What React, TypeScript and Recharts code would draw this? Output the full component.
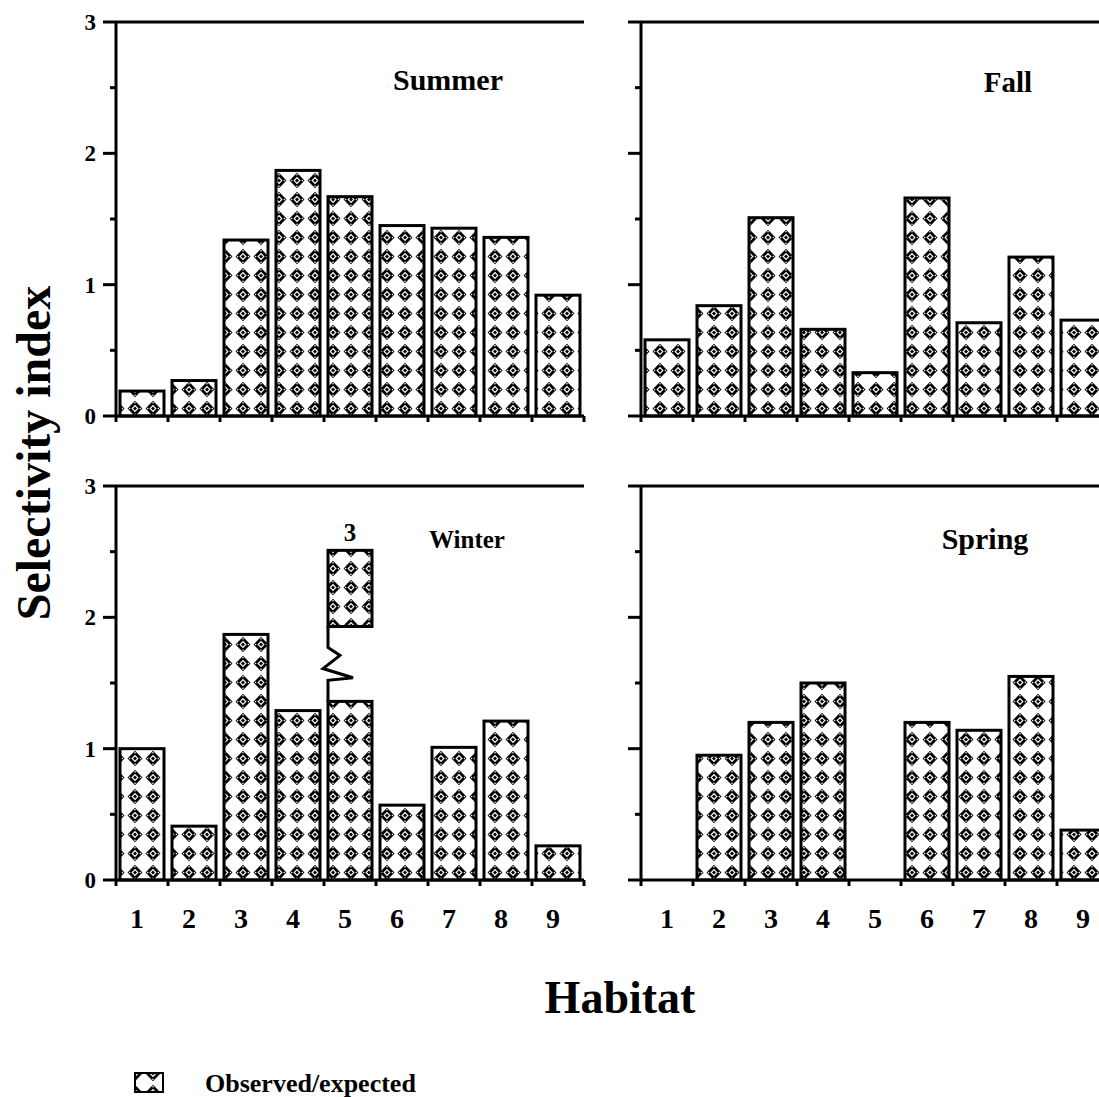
import React from 'react'
import { BarChart, Bar, XAxis, YAxis, ReferenceLine } from 'recharts'

const habitats = ['1', '2', '3', '4', '5', '6', '7', '8', '9']
const summerValues = [0.19, 0.27, 1.34, 1.87, 1.67, 1.45, 1.43, 1.36, 0.92]
const fallValues = [0.58, 0.84, 1.51, 0.66, 0.33, 1.66, 0.71, 1.21, 0.73]
const winterValues = [1.0, 0.41, 1.87, 1.29, 3, 0.57, 1.01, 1.21, 0.26]
const springValues = [0, 0.95, 1.2, 1.5, 0, 1.2, 1.14, 1.55, 0.38]
const yTicks = [0, 0.5, 1, 1.5, 2, 2.5, 3]

// winter habitat 5 runs off the scale, so its bar is drawn with a break
const brokenHabitat = '5'
const brokenLowerTop = 1.36
const brokenUpper = [1.93, 2.51]

const FONT = "'Liberation Serif', 'Times New Roman', serif"
const CHART_W = 600
const CHART_H = 486
const PLOT_W = 468
const BAND = PLOT_W / habitats.length

const toRows = (values: number[], broken = false) =>
  habitats.map((h, i) => ({ habitat: h, value: values[i], broken: broken && h === brokenHabitat }))

const BarShape = (props: any) => {
  const { x, y, width, height, payload } = props
  if (!height || height <= 0) return null
  if (!payload.broken) {
    return <rect x={x} y={y} width={width} height={height} fill="url(#obsExp)" stroke="#000" strokeWidth={3} />
  }
  const base = y + height
  const unit = height / payload.value
  const py = (v: number) => base - v * unit
  const zig = [
    [0, brokenUpper[0]],
    [0, 1.77],
    [12, 1.71],
    [-5, 1.61],
    [25, 1.54],
    [0, 1.52],
    [0, brokenLowerTop],
  ]
  return (
    <g>
      <rect x={x} y={py(brokenLowerTop)} width={width} height={base - py(brokenLowerTop)} fill="url(#obsExp)" stroke="#000" strokeWidth={3} />
      <rect x={x} y={py(brokenUpper[1])} width={width} height={py(brokenUpper[0]) - py(brokenUpper[1])} fill="url(#obsExp)" stroke="#000" strokeWidth={3} />
      <polyline points={zig.map(([dx, v]) => `${x + dx},${py(v)}`).join(' ')} fill="none" stroke="#000" strokeWidth={3} />
      <text x={x + width / 2} y={py(brokenUpper[1]) - 9} textAnchor="middle" fontFamily={FONT} fontWeight="bold" fontSize={25}>
        {payload.value}
      </text>
    </g>
  )
}

const YTick = ({ x, y, payload, showLabels }: any) => {
  const major = Number.isInteger(payload.value)
  return (
    <g>
      <line x1={x - (major ? 13 : 6)} x2={x} y1={y} y2={y} stroke="#000" strokeWidth={3} />
      {showLabels && major && (
        <text x={x - 20} y={y + 8} textAnchor="end" fontFamily={FONT} fontWeight="bold" fontSize={23}>
          {payload.value}
        </text>
      )}
    </g>
  )
}

const XTick = ({ x, y, payload, index, showLabels, shift }: any) => (
  <g>
    <line x1={x - BAND / 2} x2={x - BAND / 2} y1={y} y2={y + 6} stroke="#000" strokeWidth={3} />
    {index === habitats.length - 1 && (
      <line x1={x + BAND / 2} x2={x + BAND / 2} y1={y} y2={y + 6} stroke="#000" strokeWidth={3} />
    )}
    {showLabels && (
      <text x={x + shift} y={y + 48} textAnchor="middle" fontFamily={FONT} fontWeight="bold" fontSize={28}>
        {payload.value}
      </text>
    )}
  </g>
)

interface PanelProps {
  rows: { habitat: string; value: number; broken: boolean }[]
  left: number
  top: number
  showYLabels: boolean
  showXLabels: boolean
  labelShift: number
}

function Panel({ rows, left, top, showYLabels, showXLabels, labelShift }: PanelProps) {
  return (
    <div style={{ position: 'absolute', left, top }}>
      <BarChart width={CHART_W} height={CHART_H} data={rows} barCategoryGap={4} margin={{ top: 22, right: 16, bottom: 0, left: 56 }}>
        <XAxis
          dataKey="habitat"
          interval={0}
          height={70}
          tickSize={0}
          tickMargin={0}
          tickLine={false}
          axisLine={{ stroke: '#000', strokeWidth: 3 }}
          tick={(p: any) => <XTick {...p} showLabels={showXLabels} shift={labelShift} />}
        />
        <YAxis
          type="number"
          domain={[0, 3]}
          ticks={yTicks}
          width={60}
          tickSize={0}
          tickMargin={0}
          tickLine={false}
          axisLine={{ stroke: '#000', strokeWidth: 3 }}
          tick={(p: any) => <YTick {...p} showLabels={showYLabels} />}
        />
        <YAxis
          yAxisId="frame"
          orientation="right"
          domain={[0, 3]}
          width={0}
          tick={false}
          tickLine={false}
          axisLine={{ stroke: '#000', strokeWidth: 3 }}
        />
        <ReferenceLine y={3} stroke="#000" strokeWidth={3} />
        <Bar dataKey="value" isAnimationActive={false} shape={BarShape} />
      </BarChart>
    </div>
  )
}

export default function App() {
  const txt = { fontFamily: FONT, fontWeight: 'bold' as const }
  return (
    <div style={{ position: 'absolute', left: 0, top: 0, width: 1099, height: 1097, overflow: 'hidden', background: '#fff' }}>
      <Panel rows={toRows(summerValues)} left={0} top={0} showYLabels showXLabels={false} labelShift={-5} />
      <Panel rows={toRows(fallValues)} left={525} top={0} showYLabels={false} showXLabels={false} labelShift={0} />
      <Panel rows={toRows(winterValues, true)} left={0} top={464} showYLabels showXLabels labelShift={-5} />
      <Panel rows={toRows(springValues)} left={525} top={464} showYLabels={false} showXLabels labelShift={0} />

      <svg width={1099} height={1097} style={{ position: 'absolute', left: 0, top: 0, pointerEvents: 'none' }}>
        <defs>
          {/* beaded diamond tile used for every bar */}
          <pattern id="obsExp" patternUnits="userSpaceOnUse" width={18} height={19}>
            <rect width={18} height={19} fill="#fff" />
            <polygon points="9,1.8 16.5,9.5 9,17.2 1.5,9.5" fill="#000" />
            <polygon points="9,5.8 12.6,9.5 9,13.2 5.4,9.5" fill="#fff" />
            <polygon points="9,7.4 11,9.5 9,11.6 7,9.5" fill="#000" />
            <circle cx={9} cy={3.8} r={0.8} fill="#fff" />
            <circle cx={9} cy={15.2} r={0.8} fill="#fff" />
            <circle cx={3.6} cy={9.5} r={0.8} fill="#fff" />
            <circle cx={14.4} cy={9.5} r={0.8} fill="#fff" />
          </pattern>
        </defs>

        <text x={448} y={90} textAnchor="middle" fontSize={30} {...txt}>Summer</text>
        <text x={1008} y={92} textAnchor="middle" fontSize={29} {...txt}>Fall</text>
        <text x={467} y={548} textAnchor="middle" fontSize={25} {...txt}>Winter</text>
        <text x={985} y={549} textAnchor="middle" fontSize={30} {...txt}>Spring</text>

        <text x={50} y={453} textAnchor="middle" fontSize={48} transform="rotate(-90 50 453)" {...txt}>
          Selectivity index
        </text>
        <text x={620} y={1013} textAnchor="middle" fontSize={46} {...txt}>Habitat</text>

        <rect x={135} y={1073} width={28} height={19} fill="url(#obsExp)" stroke="#000" strokeWidth={2} />
        <text x={205} y={1092} fontSize={26} {...txt}>Observed/expected</text>
      </svg>
    </div>
  )
}
